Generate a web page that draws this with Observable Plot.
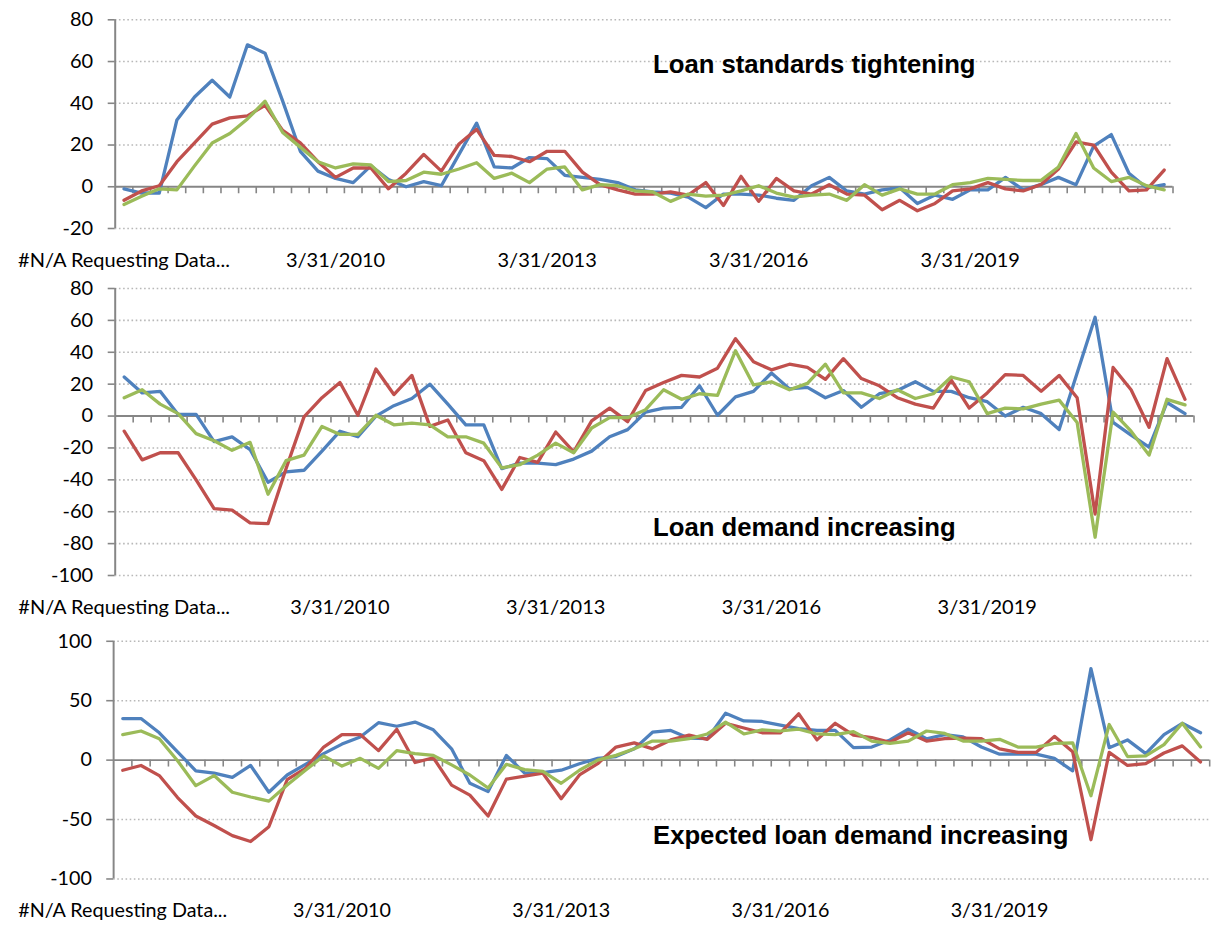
<!DOCTYPE html>
<html><head><meta charset="utf-8">
<script src="https://cdn.jsdelivr.net/npm/d3@7"></script>
<script src="https://cdn.jsdelivr.net/npm/@observablehq/plot@0.6"></script>
<style>
html,body{margin:0;padding:0;background:#fff;overflow:hidden;}
#wrap{position:relative;width:1223px;height:927px;overflow:hidden;background:#fff;}
.panel{position:absolute;left:0;}
.title{position:absolute;left:653px;font-family:"Liberation Sans",Arial,sans-serif;font-weight:bold;font-size:25.7px;line-height:1;white-space:nowrap;color:#000;}
</style></head><body><div id="wrap"></div>
<script>
// Category axis: 60 quarterly categories, labelled every 12th
const categoryCount = 60;
const tickLabels = ["#N/A Requesting Data...", "3/31/2010", "3/31/2013", "3/31/2016", "3/31/2019"];
const tickLabelIndex = [0, 12, 24, 36, 48];
const seriesNames = ["Series 1", "Series 2", "Series 3"];
const seriesColors = ["#4F81BD", "#C0504D", "#9BBB59"];

// Panel 1: Loan standards tightening
const standardsTitle = "Loan standards tightening";
const standardsTicks = [-20, 0, 20, 40, 60, 80];
const standardsBlue = [-1, -3, -3, 32, 43, 51, 43, 68, 64, 41, 17, 7.5, 4, 2, 10, 3.5, 0, 2.5, 0.5, 15.5, 30.5, 9.5, 9, 14, 13.5, 5.5, 4.5, 3.5, 2, -1.5, -2.5, -3, -5, -10, -3.5, -3.5, -4, -5.5, -6.5, 0.5, 4.5, -2, -3.5, -1.5, -0.5, -8, -4, -6, -1.5, -1.5, 4.5, -1.5, 1, 4.5, 1, 19.5, 25, 6.5, -0.5, 1];
const standardsRed = [-6.5, -2, 0.5, 12, 21, 30, 33, 34, 39, 27, 21, 12, 4.5, 9, 9, -1, 6.5, 15.5, 7.5, 20.5, 27.5, 15, 14.5, 12, 17, 17, 7, 1, -1.5, -3.5, -3.5, -2.5, -4, 2, -9, 5, -7, 4, -2, -3.5, 1, -3.5, -4, -11, -6.5, -11.5, -8, -2, -1, 2, -1, -2, 1, 8.5, 21.5, 20, 7, -2, -1.5, 8];
const standardsGreen = [-8.5, -4.5, -1, -1.5, 10, 21, 25.5, 32.5, 41, 26, 19, 12, 9, 11, 10.5, 2.5, 3, 7, 6, 8.5, 11.5, 4, 6.5, 2, 8.5, 9.5, -1.5, 1, 0.5, -2, -2.5, -7, -3.5, -4.5, -4, -2, 0.5, -3, -5, -4, -3.5, -6.5, 1, -4, -1, -3.5, -3.5, 1, 2, 4, 3.5, 3, 3, 9.5, 25.5, 9, 2.5, 4.5, 0.5, -1.5];

// Panel 2: Loan demand increasing
const demandTitle = "Loan demand increasing";
const demandTicks = [-100, -80, -60, -40, -20, 0, 20, 40, 60, 80];
const demandBlue = [24.5, 14.5, 15.5, 1, 1, -16, -13, -21, -41.5, -35, -34, -22, -9.5, -13, 0, 6.5, 11, 20, 7.5, -5.5, -5.5, -33, -29.5, -29.5, -30.5, -27, -22, -13, -8.5, 2.5, 5, 5.5, 19, 0.5, 12, 15.5, 27, 17, 18, 11.5, 16, 5.5, 14, 16, 21.5, 15.5, 15.5, 11.5, 9, 0, 5.5, 1.5, -8.5, 27, 62, -4, -12, -19.5, 8.5, 1.5];
const demandRed = [-9.5, -27.5, -23, -23, -40, -58, -59, -67, -67.5, -33, -0.5, 11.5, 21, 0.5, 29.5, 13.5, 25.5, -6.5, -2.5, -23, -28, -46, -26, -29, -10, -22.5, -3, 5, -3.5, 16, 21, 25.5, 24.5, 30, 48.5, 34, 29, 32.5, 30.5, 23, 36, 23.5, 19, 11.5, 7.5, 5, 22.5, 5, 14.5, 26, 25.5, 15.5, 25.5, 11.5, -61.5, 30.5, 16.5, -7, 36, 10.5];
const demandGreen = [11.5, 16.5, 7.5, 1.5, -11, -15.5, -21.5, -16.5, -49, -28, -24.5, -6.5, -11.5, -11.5, 0.5, -5.5, -4.5, -5.5, -13, -13, -17, -32.5, -30.5, -24.5, -17, -23, -7.5, -1, -1, 4, 16.5, 10.5, 14, 13, 41, 19.5, 21.5, 16.5, 20.5, 32.5, 14.5, 14.5, 11, 16.5, 11, 14, 24.5, 21.5, 1.5, 5, 4.5, 7.5, 10, -4, -76, 2.5, -9.5, -24.5, 10.5, 7];

// Panel 3: Expected loan demand increasing
const expectedTitle = "Expected loan demand increasing";
const expectedTicks = [-100, -50, 0, 50, 100];
const expectedBlue = [35, 35, 23, 7, -9, -11, -14.5, -4.5, -27, -12.5, -3.5, 5.5, 13.5, 19.5, 31.5, 28.5, 32, 25.5, 9.5, -19.5, -26.5, 4, -11, -10.5, -8.5, -3, 1.5, 3, 9.5, 23.5, 25, 18.5, 18, 39.5, 33, 32.5, 29.5, 26.5, 25, 25, 10.5, 11, 17, 26, 18, 21.5, 19.5, 11, 5, 5, 5, 1.5, -9, 77, 10.5, 17, 5.5, 21.5, 31, 23];
const expectedRed = [-8.5, -4.5, -13, -31.5, -47, -55, -63.5, -68.5, -56, -16.5, -7, 11, 21.5, 21.5, 8, 26, -2, 2, -21, -29.5, -47, -16, -13.5, -11, -32.5, -12.5, -3, 11, 14.5, 9.5, 17, 21, 17.5, 31, 27, 23, 23, 39, 17, 31, 21, 19, 15, 23, 16, 18, 18.5, 18, 9.5, 6.5, 6.5, 20, 7, -67, 6.5, -4.5, -3, 6, 12, -1.5];
const expectedGreen = [21.5, 24.5, 18, -0.5, -21.5, -13, -27, -31, -34.5, -21, -8.5, 3.5, -5, 1.5, -7, 8, 5.5, 4, -4, -12.5, -23.5, -3.5, -8, -9.5, -19.5, -8.5, 0, 4, 9.5, 16, 16, 18, 22, 32, 22, 25.5, 24.5, 26, 22, 21.5, 24, 16, 14, 16, 24.5, 22.5, 16, 16, 17.5, 11, 11, 14, 14.5, -30, 30, 3, 3.5, 13, 31, 11];

const wrap = document.getElementById("wrap");
const AXIS = "#868686";

function panel({top, width, height, marginTop, marginBottom, marginRight, ticks, series, title, titleTop}) {
  const rows = [];
  series.forEach((vals, s) => vals.forEach((v, i) => rows.push({x: i + 0.5, v, s: seriesNames[s]})));
  const yDomain = [d3.min(ticks), d3.max(ticks)];
  const chart = Plot.plot({
    width, height, marginLeft: 114.7, marginRight, marginTop, marginBottom,
    style: {fontFamily: "Lato, sans-serif", fontSize: "20px", color: "#000", background: "transparent", overflow: "visible"},
    x: {type: "linear", domain: [0, categoryCount], axis: null},
    y: {domain: yDomain, axis: null},
    color: {domain: seriesNames, range: seriesColors},
    marks: [
      Plot.ruleY(ticks.filter(d => d !== 0), {stroke: "#B8B8B8", strokeWidth: 1.6, strokeDasharray: "1.6,2.6"}),
      Plot.axisY({ticks, label: null, tickSize: 7, tickPadding: 15, stroke: AXIS, strokeWidth: 1.6, strokeOpacity: 1, tickFormat: d => String(d), fill: "#000"}),
      Plot.ruleX([0], {stroke: AXIS, strokeWidth: 2}),
      Plot.ruleY([0], {stroke: AXIS, strokeWidth: 2}),
      Plot.ruleX(d3.range(1, categoryCount + 1), {y1: 0, y2: 0, insetBottom: -7, stroke: AXIS, strokeWidth: 1.6}),
      Plot.axisX({ticks: tickLabelIndex.map(i => i + 0.5), label: null, tickFormat: d => tickLabels[tickLabelIndex.indexOf(d - 0.5)], tickSize: 0, tickPadding: 24, fill: "#000", textOverflow: null, lineWidth: Infinity}),
      Plot.line(rows, {x: "x", y: "v", z: "s", stroke: "s", strokeWidth: 3.3, strokeLinejoin: "round", strokeLinecap: "round"})
    ]
  });
  chart.classList.add("panel");
  chart.style.top = top + "px";
  wrap.appendChild(chart);
  const t = document.createElement("div");
  t.className = "title";
  t.style.top = titleTop + "px";
  t.textContent = title;
  wrap.appendChild(t);
}

panel({top: 0, width: 1223, height: 280, marginTop: 19.3, marginBottom: 52, marginRight: 50.5,
  ticks: standardsTicks, series: [standardsBlue, standardsRed, standardsGreen], title: standardsTitle, titleTop: 51.5});
panel({top: 280, width: 1223, height: 345, marginTop: 8, marginBottom: 50, marginRight: 29.5,
  ticks: demandTicks, series: [demandBlue, demandRed, demandGreen], title: demandTitle, titleTop: 515});
panel({top: 625, width: 1240, height: 302, marginTop: 16, marginBottom: 45, marginRight: 14,
  ticks: expectedTicks, series: [expectedBlue, expectedRed, expectedGreen], title: expectedTitle, titleTop: 823});
</script></body></html>
